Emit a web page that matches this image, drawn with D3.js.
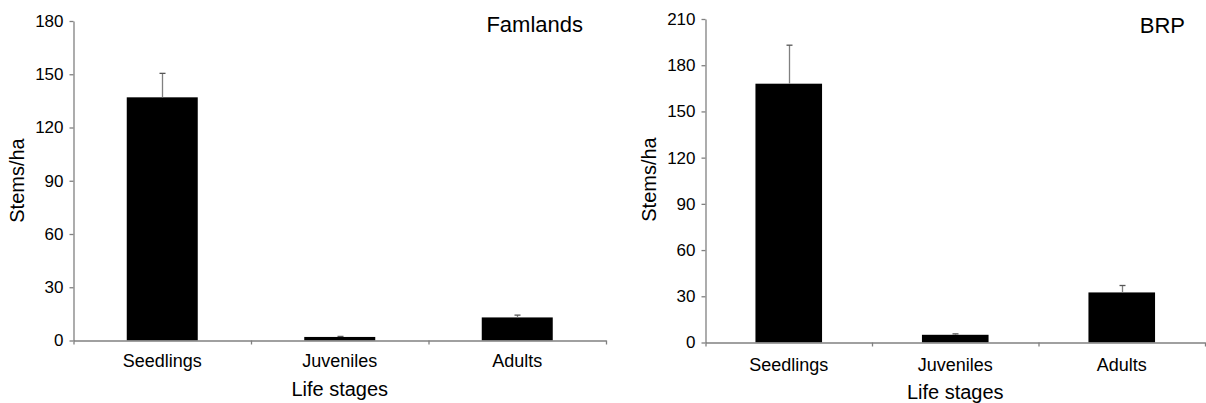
<!DOCTYPE html>
<html>
<head>
<meta charset="utf-8">
<script src="https://cdn.jsdelivr.net/npm/d3@7"></script>
<style>
  html, body { margin: 0; padding: 0; background: #fff; }
  svg { display: block; font-family: "Liberation Sans", Arial, sans-serif; }
</style>
</head>
<body>
<svg id="chart" width="1206" height="403"></svg>
<script>
const categories = ["Seedlings", "Juveniles", "Adults"];
const famlandsMeans = [137, 2, 13];
const famlandsErr = [13.5, 0.3, 1.3];
const brpMeans = [168, 5, 32.5];
const brpErr = [25, 0.6, 4.5];
const famlandsTicks = [0, 30, 60, 90, 120, 150, 180];
const brpTicks = [0, 30, 60, 90, 120, 150, 180, 210];
const panelTitles = ["Famlands", "BRP"];
const yLabel = "Stems/ha";
const xLabel = "Life stages";

const svg = d3.select("#chart");
const axisColor = "#808080";

const panels = [
  { title: panelTitles[0], means: famlandsMeans, errs: famlandsErr, ticks: famlandsTicks,
    x0: 73.5, x1: 606, y0: 340.5, y1: 21, yLabelX: 24, yLabelY: 180.5,
    catBaseline: 367, xLabelBaseline: 396, titleRight: 583, titleBaseline: 32 },
  { title: panelTitles[1], means: brpMeans, errs: brpErr, ticks: brpTicks,
    x0: 705.5, x1: 1205, y0: 342.5, y1: 19, yLabelX: 656, yLabelY: 179.5,
    catBaseline: 371, xLabelBaseline: 399, titleRight: 1185, titleBaseline: 33 }
];

panels.forEach(p => {
  const g = svg.append("g");
  const y = d3.scaleLinear().domain([0, d3.max(p.ticks)]).range([p.y0, p.y1]);
  const x = d3.scaleBand().domain(categories).range([p.x0, p.x1])
    .paddingInner(0.6).paddingOuter(0.3);
  const xb = d3.scaleLinear().domain([0, categories.length]).range([p.x0, p.x1]);

  // bars
  g.selectAll("rect.bar").data(categories).join("rect")
    .attr("class", "bar")
    .attr("x", d => x(d))
    .attr("width", x.bandwidth())
    .attr("y", (d, i) => y(p.means[i]))
    .attr("height", (d, i) => y(0) - y(p.means[i]))
    .attr("fill", "#000");

  // error bars
  const capW = 3;
  categories.forEach((c, i) => {
    const cx = Math.round(x(c) + x.bandwidth() / 2) + 0.5;
    const top = y(p.means[i] + p.errs[i]);
    g.append("line").attr("x1", cx).attr("x2", cx)
      .attr("y1", y(p.means[i])).attr("y2", top)
      .attr("stroke", axisColor).attr("stroke-width", 1.3);
    g.append("line").attr("x1", cx - capW).attr("x2", cx + capW)
      .attr("y1", top).attr("y2", top)
      .attr("stroke", "#555").attr("stroke-width", 1.3);
  });

  // y axis
  const yAxis = g.append("g").attr("transform", `translate(${p.x0},0)`)
    .call(d3.axisLeft(y).tickValues(p.ticks).tickSize(4).tickSizeOuter(0).tickPadding(6));
  yAxis.select(".domain").attr("stroke", axisColor).attr("stroke-width", 1.3);
  yAxis.selectAll(".tick line").attr("stroke", axisColor).attr("stroke-width", 1.3);
  yAxis.selectAll(".tick text").attr("fill", "#000")
    .style("font-size", "17px").style("font-family", "'Liberation Sans', Arial, sans-serif");

  // x axis
  const xAxis = g.append("g").attr("transform", `translate(0,${p.y0})`)
    .call(d3.axisBottom(xb).tickValues(d3.range(categories.length + 1)).tickFormat("")
      .tickSize(4).tickSizeOuter(0));
  xAxis.select(".domain").attr("stroke", axisColor).attr("stroke-width", 1.3);
  xAxis.selectAll(".tick line").attr("stroke", axisColor).attr("stroke-width", 1.3);

  // category labels
  g.selectAll("text.cat").data(categories).join("text")
    .attr("class", "cat")
    .attr("x", d => x(d) + x.bandwidth() / 2)
    .attr("y", p.catBaseline)
    .attr("text-anchor", "middle")
    .style("font-size", "18px")
    .text(d => d);

  // x label
  g.append("text").attr("x", (p.x0 + p.x1) / 2).attr("y", p.xLabelBaseline)
    .attr("text-anchor", "middle").style("font-size", "20px").text(xLabel);

  // y label
  g.append("text")
    .attr("transform", `translate(${p.yLabelX},${p.yLabelY}) rotate(-90)`)
    .attr("text-anchor", "middle").style("font-size", "20px").text(yLabel);

  // title
  g.append("text").attr("x", p.titleRight).attr("y", p.titleBaseline)
    .attr("text-anchor", "end").style("font-size", "22px").text(p.title);
});
</script>
</body>
</html>
